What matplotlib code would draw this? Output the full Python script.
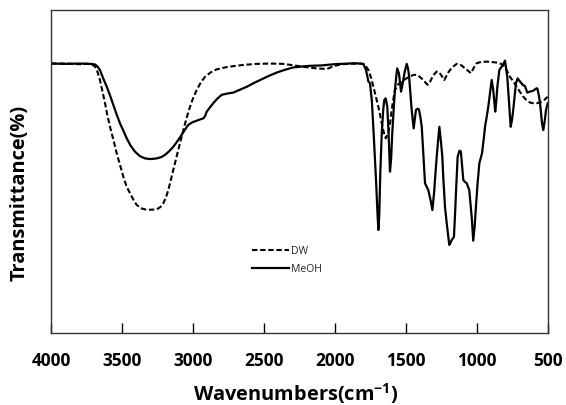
import matplotlib
matplotlib.use("Agg")
import matplotlib.pyplot as plt

# ---- data (wavenumber cm^-1, relative transmittance) ----
dw_wn = [4000, 3900, 3800, 3750, 3727, 3700, 3691, 3675, 3657, 3640, 3621, 3605, 3586, 3560,
         3539, 3515, 3492, 3470, 3445, 3420, 3398, 3370, 3339, 3300, 3257, 3232, 3210, 3192,
         3175, 3158, 3140, 3122, 3105, 3087, 3069, 3045, 3022, 3000, 2975, 2945, 2916, 2875,
         2834, 2775, 2717, 2640, 2552, 2460, 2364, 2300, 2223, 2170, 2129, 2090, 2058, 2035,
         2012, 1950, 1894, 1820, 1790, 1764, 1745, 1729, 1710, 1694, 1670, 1655, 1642, 1624,
         1610, 1600, 1588, 1577, 1555, 1529, 1500, 1471, 1445, 1424, 1400, 1377, 1360, 1346,
         1330, 1318, 1300, 1283, 1265, 1245, 1229, 1215, 1200, 1189, 1165, 1142, 1110, 1083,
         1060, 1041, 1020, 1001, 970, 930, 900, 860, 835, 813, 790, 766, 740, 719, 695, 672,
         650, 625, 600, 578, 560, 543, 520, 500]
dw_t = [83.5, 83.5, 83.3, 83.4, 83.3, 82.9, 82.5, 81.0, 78.4, 75.0, 71.2, 67.5, 63.9, 59.5,
        55.7, 52.0, 48.4, 45.5, 43.3, 41.2, 39.7, 38.7, 38.3, 38.2, 38.3, 39.0, 40.2, 42.0,
        44.3, 47.3, 50.5, 53.7, 56.7, 59.8, 62.9, 66.8, 70.1, 72.8, 75.3, 77.7, 79.4, 80.8,
        81.7, 82.3, 82.7, 83.1, 83.4, 83.5, 83.4, 83.0, 82.5, 82.2, 82.0, 81.9, 81.8, 82.2,
        82.7, 83.3, 83.4, 83.5, 83.2, 81.5, 79.0, 76.3, 73.0, 70.1, 65.0, 62.0, 60.3, 61.9,
        65.5, 69.1, 72.5, 75.3, 77.0, 77.9, 78.8, 79.5, 80.0, 80.0, 79.3, 78.4, 77.5, 76.9,
        77.8, 78.9, 80.2, 81.0, 80.8, 79.5, 78.4, 79.6, 80.8, 81.5, 82.6, 83.4, 83.0, 82.0,
        81.2, 80.5, 82.3, 83.6, 84.0, 84.1, 84.0, 83.8, 83.5, 83.0, 81.5, 79.4, 77.8, 76.3,
        74.7, 73.2, 72.2, 71.4, 71.2, 71.2, 71.4, 71.7, 72.4, 73.2]

meoh_wn = [4000, 3900, 3800, 3720, 3691, 3675, 3657, 3635, 3609, 3585, 3563, 3540, 3516, 3490,
           3468, 3440, 3410, 3375, 3339, 3300, 3257, 3225, 3198, 3170, 3140, 3110, 3081, 3055,
           3034, 3005, 2975, 2950, 2928, 2915, 2904, 2880, 2858, 2830, 2799, 2760, 2717, 2670,
           2622, 2575, 2528, 2470, 2411, 2350, 2294, 2230, 2176, 2100, 2050, 2000, 1950, 1894,
           1859, 1800, 1781, 1764, 1753, 1740, 1725, 1710, 1700, 1694, 1688, 1680, 1670, 1660,
           1652, 1642, 1631, 1622, 1612, 1604, 1596, 1585, 1577, 1568, 1561, 1549, 1534, 1522,
           1508, 1494, 1485, 1478, 1459, 1445, 1429, 1418, 1408, 1398, 1388, 1376, 1365, 1342,
           1325, 1313, 1300, 1295, 1280, 1264, 1252, 1243, 1236, 1224, 1212, 1200, 1194, 1185,
           1177, 1161, 1152, 1147, 1135, 1122, 1112, 1100, 1095, 1083, 1071, 1053, 1036, 1025,
           1015, 1006, 995, 982, 963, 950, 942, 930, 919, 905, 895, 884, 870, 862, 855, 841,
           817, 801, 793, 785, 770, 761, 752, 743, 724, 712, 695, 676, 660, 644, 625, 601,
           580, 573, 562, 554, 540, 531, 520, 512, 500]
meoh_t = [83.5, 83.4, 83.5, 83.4, 83.2, 82.6, 81.5, 79.0, 76.3, 73.5, 70.7, 67.8, 65.0, 62.5,
          60.3, 58.0, 56.2, 54.8, 54.1, 53.9, 54.1, 54.5, 55.2, 56.3, 57.7, 59.5, 61.4, 63.2,
          64.5, 65.3, 65.8, 66.2, 66.5, 67.3, 68.6, 70.0, 71.2, 72.6, 73.8, 74.2, 74.5, 75.4,
          76.3, 77.4, 78.4, 79.6, 80.7, 81.6, 82.3, 82.6, 82.8, 82.9, 83.1, 83.3, 83.4, 83.5,
          83.6, 83.4, 81.5, 77.9, 77.4, 72.0, 60.0, 47.0, 37.0, 31.9, 36.0, 50.0, 62.0, 69.0,
          72.2, 72.7, 70.1, 62.0, 50.0, 54.0, 61.9, 70.0, 75.3, 79.5, 82.0, 80.5, 74.8, 77.4,
          81.0, 83.4, 82.0, 79.9, 69.1, 63.4, 69.1, 69.5, 69.3, 67.0, 63.9, 55.0, 46.4, 44.3,
          41.0, 38.1, 44.0, 47.4, 56.0, 63.9, 59.0, 54.6, 48.0, 39.0, 34.0, 29.5, 27.3, 28.0,
          28.8, 29.8, 38.0, 43.3, 54.6, 56.5, 56.2, 50.0, 47.4, 46.8, 46.4, 44.3, 36.0, 28.6,
          33.0, 39.1, 46.0, 52.6, 55.7, 60.5, 63.9, 67.0, 70.1, 75.0, 78.4, 75.3, 68.6, 72.0,
          76.3, 81.5, 83.0, 84.4, 82.0, 79.4, 70.0, 63.9, 66.0, 69.1, 77.4, 78.9, 77.9, 76.9,
          76.5, 74.5, 74.8, 75.1, 75.8, 75.8, 73.5, 71.2, 65.0, 62.9, 66.0, 69.1, 71.2]

series_labels = ["DW", "MeOH"]
x_ticks = [4000, 3500, 3000, 2500, 2000, 1500, 1000, 500]

plt.rcParams['mathtext.fontset'] = 'custom'
plt.rcParams['mathtext.rm'] = 'Open Sans'
plt.rcParams['mathtext.bf'] = 'Open Sans:bold'
plt.rcParams['mathtext.default'] = 'bf'

W, H = 566, 405
fig = plt.figure(figsize=(W / 100, H / 100), dpi=100)
ax = fig.add_axes([51.3 / W, 1 - 333 / H, (547.7 - 51.3) / W, (333 - 10.3) / H])

ax.plot(dw_wn, dw_t, color='black', lw=1.5, dashes=(2.6, 1.3), label=series_labels[0])
ax.plot(meoh_wn, meoh_t, color='black', lw=1.6, label=series_labels[1])

ax.set_xlim(4000, 500)
ax.set_ylim(0, 100)
ax.set_xticks(x_ticks)
ax.set_xticklabels([str(t) for t in x_ticks], fontfamily='Open Sans', fontweight='bold', fontsize=12.4)
ax.set_yticks([])
ax.tick_params(axis='x', direction='in', length=7, width=1, pad=14, colors='black')
for s in ax.spines.values():
    s.set_linewidth(1.0)
    s.set_color('#333333')

fig.text(296 / W, 1 - 400.5 / H, 'Wavenumbers(cm$^{-1}$)', ha='center', va='baseline',
         fontfamily='Open Sans', fontweight='bold', fontsize=14.4)
fig.text(19.2 / W, 1 - 193 / H, 'Transmittance(%)', ha='center', va='center', rotation=90,
         fontfamily='Open Sans', fontweight='bold', fontsize=14.4)

leg = ax.legend(loc='upper left', bbox_to_anchor=(251.7 / W, 1 - 246 / H),
                bbox_transform=fig.transFigure, frameon=False, borderpad=0, borderaxespad=0,
                handlelength=3.6, handletextpad=0.15, labelspacing=0.65,
                prop={'family': 'Open Sans', 'size': 7.5})
for t in leg.get_texts():
    t.set_color('#222222')

fig.savefig('out.png', dpi=100)
